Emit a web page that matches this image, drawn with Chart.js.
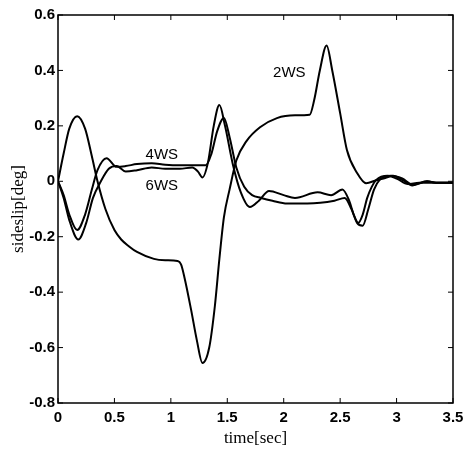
<!DOCTYPE html>
<html>
<head>
<meta charset="utf-8">
<script src="https://cdn.jsdelivr.net/npm/chart.js@4/dist/chart.umd.min.js"></script>
<style>
  html, body { margin: 0; padding: 0; background: #fff; }
  #wrap { width: 473px; height: 453px; }
</style>
</head>
<body>
<div id="wrap"><canvas id="c" width="473" height="453"></canvas></div>
<script>
// sideslip response
const xTicks = [0, 0.5, 1, 1.5, 2, 2.5, 3, 3.5];
const yTicks = [-0.8, -0.6, -0.4, -0.2, 0, 0.2, 0.4, 0.6];

const ws2Time = [0, 0.05, 0.1, 0.17, 0.24, 0.3, 0.35, 0.42, 0.5, 0.56, 0.63, 0.7, 0.85, 0.95, 1.06, 1.09, 1.12, 1.18, 1.23, 1.28, 1.34, 1.39, 1.43, 1.47, 1.52, 1.58, 1.67, 1.79, 1.94, 2.1, 2.23, 2.27, 2.32, 2.38, 2.43, 2.5, 2.56, 2.65, 2.73, 2.82, 2.9, 2.97, 3.05, 3.14, 3.27, 3.35, 3.45, 3.5];
const ws2Slip = [0, 0.1, 0.19, 0.235, 0.19, 0.09, 0.0, -0.1, -0.176, -0.21, -0.235, -0.255, -0.28, -0.285, -0.288, -0.3, -0.346, -0.465, -0.573, -0.656, -0.6, -0.45, -0.28, -0.13, -0.03, 0.075, 0.145, 0.195, 0.228, 0.238, 0.24, 0.293, 0.40, 0.49, 0.40, 0.246, 0.113, 0.03, -0.007, 0.004, 0.012, 0.02, 0.005, -0.015, 0.0, -0.005, -0.005, -0.005];

const ws4Time = [0, 0.05, 0.1, 0.17, 0.24, 0.3, 0.35, 0.43, 0.52, 0.6, 0.7, 0.83, 0.95, 1.08, 1.2, 1.31, 1.36, 1.41, 1.47, 1.52, 1.58, 1.65, 1.72, 1.8, 1.9, 2.03, 2.21, 2.45, 2.54, 2.6, 2.65, 2.7, 2.75, 2.8, 2.85, 2.95, 3.05, 3.14, 3.27, 3.35, 3.45, 3.5];
const ws4Slip = [0, -0.05, -0.12, -0.176, -0.12, -0.03, 0.04, 0.083, 0.052, 0.055, 0.062, 0.065, 0.06, 0.058, 0.058, 0.058, 0.1, 0.18, 0.228, 0.16, 0.05, -0.02, -0.05, -0.06, -0.07, -0.08, -0.08, -0.07, -0.06, -0.1, -0.15, -0.16, -0.1, -0.03, 0.005, 0.02, 0.01, -0.012, 0.0, -0.005, -0.005, -0.005];

const ws6Time = [0, 0.05, 0.1, 0.18, 0.25, 0.31, 0.38, 0.45, 0.52, 0.6, 0.7, 0.83, 0.95, 1.08, 1.19, 1.24, 1.28, 1.33, 1.38, 1.43, 1.48, 1.55, 1.62, 1.7, 1.78, 1.87, 2.0, 2.1, 2.3, 2.42, 2.52, 2.58, 2.62, 2.66, 2.7, 2.74, 2.78, 2.82, 2.92, 3.0, 3.1, 3.2, 3.3, 3.4, 3.5];
const ws6Slip = [0, -0.06, -0.14, -0.21, -0.15, -0.06, 0.0, 0.045, 0.055, 0.035, 0.04, 0.05, 0.045, 0.045, 0.05, 0.035, 0.014, 0.07, 0.2, 0.275, 0.2, 0.06, -0.04, -0.093, -0.07, -0.035, -0.05, -0.06, -0.04, -0.05, -0.03, -0.07, -0.12, -0.15, -0.12, -0.06, -0.02, 0.005, 0.02, 0.01, -0.01, -0.005, -0.005, -0.005, -0.005];

// curve labels placed in data coordinates
const curveLabels = [
    { text: '2WS', t: 2.05, v: 0.39 },
    { text: '4WS', t: 0.92, v: 0.095 },
    { text: '6WS', t: 0.92, v: -0.015 }
];

const toPoints = (ts, vs) => ts.map((t, i) => ({ x: t, y: vs[i] }));

const lineStyle = {
    borderColor: '#000',
    borderWidth: 2,
    pointRadius: 0,
    fill: false,
    cubicInterpolationMode: 'monotone'
};

// frame + inward ticks on all four sides, MATLAB style
const framePlugin = {
    id: 'frame',
    afterDatasetsDraw(chart) {
        const { ctx, chartArea: a, scales } = chart;
        ctx.save();
        ctx.strokeStyle = '#000';
        ctx.lineWidth = 1.5;
        ctx.strokeRect(a.left, a.top, a.right - a.left, a.bottom - a.top);
        ctx.lineWidth = 1;
        const len = 5;
        ctx.beginPath();
        xTicks.forEach(t => {
            const px = scales.x.getPixelForValue(t);
            ctx.moveTo(px, a.bottom); ctx.lineTo(px, a.bottom - len);
            ctx.moveTo(px, a.top); ctx.lineTo(px, a.top + len);
        });
        yTicks.forEach(v => {
            const py = scales.y.getPixelForValue(v);
            ctx.moveTo(a.left, py); ctx.lineTo(a.left + len, py);
            ctx.moveTo(a.right, py); ctx.lineTo(a.right - len, py);
        });
        ctx.stroke();

        ctx.fillStyle = '#000';
        ctx.font = '15px "Liberation Sans", Arial, sans-serif';
        ctx.textAlign = 'center';
        ctx.textBaseline = 'middle';
        curveLabels.forEach(l => {
            ctx.fillText(l.text, scales.x.getPixelForValue(l.t), scales.y.getPixelForValue(l.v));
        });
        ctx.restore();
    }
};

const tickFont = { family: '"Liberation Sans", Arial, sans-serif', size: 15, weight: 'bold' };
const titleFont = { family: '"Liberation Serif", "Times New Roman", serif', size: 17 };

new Chart(document.getElementById('c'), {
    type: 'line',
    data: {
        datasets: [
            { label: '2WS', data: toPoints(ws2Time, ws2Slip), ...lineStyle },
            { label: '4WS', data: toPoints(ws4Time, ws4Slip), ...lineStyle },
            { label: '6WS', data: toPoints(ws6Time, ws6Slip), ...lineStyle }
        ]
    },
    options: {
        responsive: false,
        animation: false,
        layout: { padding: { top: 15, right: 20, left: 8, bottom: 0 } },
        plugins: { legend: { display: false }, tooltip: { enabled: false } },
        scales: {
            x: {
                type: 'linear',
                min: 0, max: 3.5,
                afterBuildTicks: s => { s.ticks = xTicks.map(v => ({ value: v })); },
                afterFit: s => { s.height = 50; },
                grid: { display: false, drawTicks: false },
                border: { display: false },
                ticks: {
                    color: '#000', font: tickFont, padding: 6,
                    callback: v => String(v)
                },
                title: { display: true, text: 'time[sec]', color: '#000', font: titleFont, padding: { top: 0 } }
            },
            y: {
                type: 'linear',
                min: -0.8, max: 0.6,
                afterBuildTicks: s => { s.ticks = yTicks.map(v => ({ value: v })); },
                afterFit: s => { s.width = 50; },
                grid: { display: false, drawTicks: false },
                border: { display: false },
                ticks: {
                    color: '#000', font: tickFont, padding: 3,
                    callback: v => (Math.abs(v) < 1e-9 ? '0' : String(Math.round(v * 10) / 10))
                },
                title: { display: true, text: 'sideslip[deg]', color: '#000', font: titleFont, padding: 0 }
            }
        }
    },
    plugins: [framePlugin]
});
</script>
</body>
</html>
